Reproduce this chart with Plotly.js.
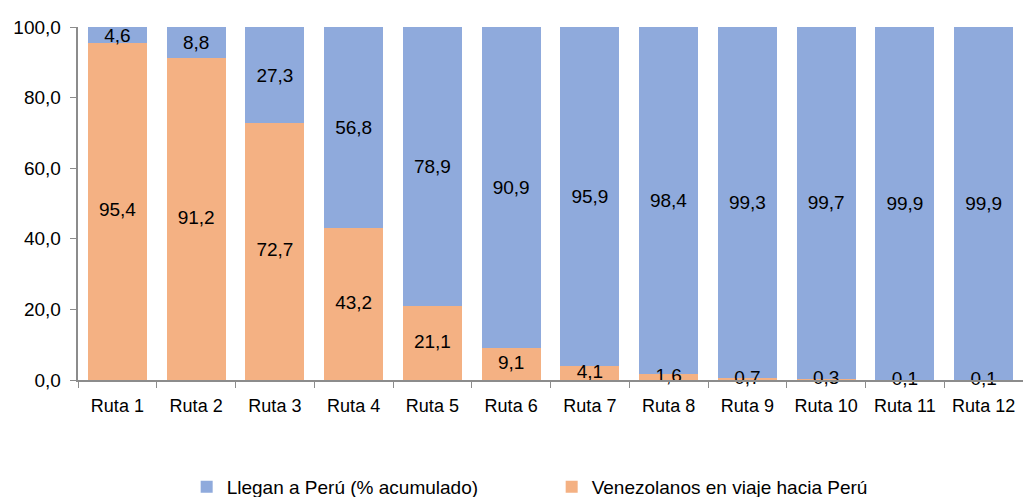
<!DOCTYPE html>
<html><head><meta charset="utf-8">
<script src="https://cdn.plot.ly/plotly-3.0.1.min.js"></script>
<style>html,body{margin:0;padding:0;background:#fff}#chart{width:1023px;height:497px}</style>
</head><body><div id="chart"></div>
<script>
const categories = ["Ruta 1","Ruta 2","Ruta 3","Ruta 4","Ruta 5","Ruta 6","Ruta 7","Ruta 8","Ruta 9","Ruta 10","Ruta 11","Ruta 12"];
const enViaje = [95.4, 91.2, 72.7, 43.2, 21.1, 9.1, 4.1, 1.6, 0.7, 0.3, 0.1, 0.1];
const llegan = [4.6, 8.8, 27.3, 56.8, 78.9, 90.9, 95.9, 98.4, 99.3, 99.7, 99.9, 99.9];
const nameViaje = "Venezolanos en viaje hacia Perú";
const nameLlegan = "Llegan a Perú (% acumulado)";
const FONT = "Liberation Sans, Arial, sans-serif";
const fmt = v => v.toFixed(1).replace('.', ',');

const traces = [
  {type:'bar', x:categories, y:enViaje, name:nameViaje,
   marker:{color:'#F4B183'}, hoverinfo:'skip'},
  {type:'bar', x:categories, y:llegan, name:nameLlegan,
   marker:{color:'#8FAADC'}, texttemplate:'%{y:.1f}', textposition:'inside',
   insidetextanchor:'middle', textangle:0, constraintext:'none',
   textfont:{family:FONT, size:19, color:'#000'}, hoverinfo:'skip'},
  {type:'scatter', mode:'text', x:categories, y:enViaje.map(v => v/2),
   text:enViaje.map(fmt), textposition:'middle center', showlegend:false, cliponaxis:false,
   textfont:{family:FONT, size:19, color:'#000'}, hoverinfo:'skip'}
];
const layout = {
  barmode:'stack', bargap:0.25, separators:', ',
  width:1023, height:497,
  margin:{l:78, r:0, t:27, b:117, autoexpand:false},
  paper_bgcolor:'#fff', plot_bgcolor:'#fff',
  font:{family:FONT, size:18, color:'#000'},
  uniformtext:{mode:'show', minsize:19},
  showlegend:true,
  legend:{orientation:'h', traceorder:'reversed', x:0.115, xanchor:'left', y:-0.303, yanchor:'middle',
          font:{family:FONT, size:19, color:'#000'}, entrywidth:320, entrywidthmode:'pixels'},
  xaxis:{range:[-0.5, categories.length - 0.5], showline:true, linecolor:'#8c8c8c', linewidth:2, ticks:'outside', tickson:'boundaries',
         ticklen:6, tickcolor:'#8c8c8c', tickfont:{family:FONT, size:18}, showgrid:false, fixedrange:true,
         ticklabelstandoff:8, tickangle:0, automargin:false},
  yaxis:{range:[0,100], dtick:20, tickformat:'.1f', ticksuffix:'\u00a0', showline:true, linecolor:'#8c8c8c', linewidth:2,
         ticks:'outside', ticklen:6, tickcolor:'#8c8c8c', showgrid:false, zeroline:false,
         tickfont:{family:FONT, size:19}, fixedrange:true, automargin:false}
};
Plotly.newPlot('chart', traces, layout, {displayModeBar:false, staticPlot:true});
</script></body></html>
